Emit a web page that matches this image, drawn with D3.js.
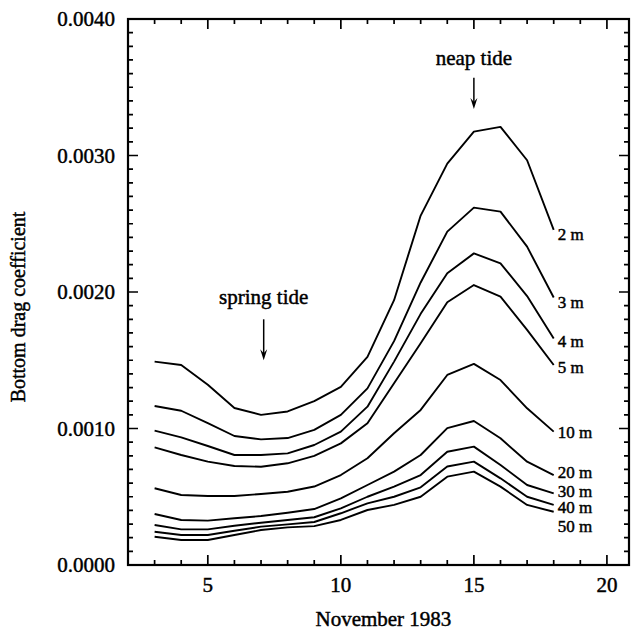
<!DOCTYPE html>
<html>
<head>
<meta charset="utf-8">
<script src="https://cdn.jsdelivr.net/npm/d3@7"></script>
<style>
  body { margin: 0; background: #fff; }
  text { font-family: "Liberation Serif", "DejaVu Serif", serif; fill: #000; stroke: #000; stroke-width: 0.45px; }
</style>
</head>
<body>
<svg id="chart" width="632" height="632"></svg>
<script>
// days of November 1983
const days = [3, 4, 5, 6, 7, 8, 9, 10, 11, 12, 13, 14, 15, 16, 17, 18];

// bottom drag coefficient, in units of 1e-3, per depth
const depths = ["2 m", "3 m", "4 m", "5 m", "10 m", "20 m", "30 m", "40 m", "50 m"];
const cd2 = [1.49, 1.465, 1.32, 1.15, 1.10, 1.125, 1.20, 1.305, 1.525, 1.94, 2.56, 2.94, 3.175, 3.21, 2.965, 2.455];
const cd3 = [1.165, 1.13, 1.04, 0.945, 0.92, 0.93, 0.99, 1.10, 1.294, 1.64, 2.07, 2.442, 2.618, 2.589, 2.332, 1.96];
const cd4 = [0.984, 0.935, 0.872, 0.806, 0.806, 0.818, 0.879, 0.977, 1.16, 1.49, 1.84, 2.137, 2.283, 2.21, 1.97, 1.66];
const cd5 = [0.862, 0.806, 0.757, 0.725, 0.72, 0.745, 0.80, 0.891, 1.038, 1.331, 1.624, 1.925, 2.051, 1.966, 1.722, 1.465];
const cd10 = [0.562, 0.513, 0.505, 0.505, 0.52, 0.537, 0.575, 0.659, 0.782, 0.965, 1.136, 1.392, 1.473, 1.355, 1.148, 0.977];
const cd20 = [0.374, 0.33, 0.325, 0.342, 0.359, 0.383, 0.41, 0.488, 0.586, 0.684, 0.806, 1.003, 1.055, 0.928, 0.757, 0.659];
const cd30 = [0.293, 0.261, 0.261, 0.288, 0.31, 0.33, 0.35, 0.415, 0.50, 0.574, 0.659, 0.83, 0.867, 0.733, 0.586, 0.525];
const cd40 = [0.244, 0.22, 0.22, 0.251, 0.281, 0.298, 0.315, 0.379, 0.452, 0.50, 0.569, 0.722, 0.757, 0.635, 0.50, 0.44];
const cd50 = [0.207, 0.183, 0.183, 0.22, 0.256, 0.276, 0.285, 0.33, 0.403, 0.44, 0.50, 0.647, 0.684, 0.574, 0.44, 0.39];
const allSeries = [cd2, cd3, cd4, cd5, cd10, cd20, cd30, cd40, cd50];

// where each depth label sits (same units)
const labelAt = [2.381, 1.883, 1.60, 1.404, 0.930, 0.637, 0.50, 0.381, 0.244];

const yMajor = [0, 0.001, 0.002, 0.003, 0.004];
const xMajor = [5, 10, 15, 20];

// ---------------------------------------------------------------
const margin = { top: 19, right: 3, bottom: 67, left: 128 };
const W = 632, H = 632;
const innerW = W - margin.left - margin.right;
const innerH = H - margin.top - margin.bottom;

const svg = d3.select("#chart");
const g = svg.append("g").attr("transform", `translate(${margin.left},${margin.top})`);

const x = d3.scaleLinear().domain([2, 20.83]).range([0, innerW]);
const y = d3.scaleLinear().domain([0, 0.004]).range([innerH, 0]);

// frame first, so nothing gets painted over
g.append("rect")
  .attr("x", 0).attr("y", 0)
  .attr("width", innerW).attr("height", innerH)
  .attr("fill", "none").attr("stroke", "#000").attr("stroke-width", 2.2);

const xTicks = d3.range(3, 21);
const yTicks = d3.range(1, 40).map((i) => i * 0.0001);
const isMajorX = (d) => xMajor.includes(d);
const isMajorY = (v) => yMajor.some((m) => Math.abs(m - v) < 1e-9);

const majorLen = 10, minorLen = 5;
const xLen = (d) => (isMajorX(d) ? majorLen : minorLen);
const yLen = (d) => (isMajorY(d) ? majorLen : minorLen);

// ticks on all four sides, pointing inward, as one path
const tp = d3.path();
xTicks.forEach((d) => {
  tp.moveTo(x(d), innerH); tp.lineTo(x(d), innerH - xLen(d));
  tp.moveTo(x(d), 0); tp.lineTo(x(d), xLen(d));
});
yTicks.forEach((d) => {
  tp.moveTo(0, y(d)); tp.lineTo(yLen(d), y(d));
  tp.moveTo(innerW, y(d)); tp.lineTo(innerW - yLen(d), y(d));
});
g.append("path")
  .attr("d", tp.toString())
  .attr("fill", "none")
  .attr("stroke", "#000")
  .attr("stroke-width", 1.7);

// tick labels
g.selectAll("text.xlab").data(xMajor).join("text").attr("class", "xlab")
  .attr("x", (d) => x(d)).attr("y", innerH + 27)
  .attr("text-anchor", "middle").attr("font-size", 21)
  .text(d3.format("d"));
g.selectAll("text.ylab").data(yMajor).join("text").attr("class", "ylab")
  .attr("x", -13).attr("y", (d) => y(d)).attr("dy", "0.35em")
  .attr("text-anchor", "end").attr("font-size", 21)
  .text(d3.format(".4f"));

// curves
const line = d3.line().x((d) => x(d[0])).y((d) => y(d[1] / 1000));
g.selectAll("path.curve")
  .data(allSeries)
  .join("path")
  .attr("class", "curve")
  .attr("d", (s) => line(days.map((d, i) => [d, s[i]])))
  .attr("fill", "none")
  .attr("stroke", "#000")
  .attr("stroke-width", 1.9)
  .attr("stroke-linejoin", "round");

// depth labels at the right end of each curve
const lastDay = days[days.length - 1];
g.selectAll("text.depth")
  .data(depths)
  .join("text")
  .attr("class", "depth")
  .attr("x", x(lastDay) + 4)
  .attr("y", (d, i) => y(labelAt[i] / 1000))
  .attr("font-size", 17)
  .text((d) => d);

// tide annotations with arrows
function annotate(label, day, textVal, arrowTop, arrowBottom) {
  const ax = x(day);
  g.append("text")
    .attr("x", ax).attr("y", y(textVal))
    .attr("text-anchor", "middle")
    .attr("font-size", 21)
    .text(label);
  const y0 = y(arrowTop), y1 = y(arrowBottom);
  g.append("line")
    .attr("x1", ax).attr("x2", ax).attr("y1", y0).attr("y2", y1 - 6)
    .attr("stroke", "#000").attr("stroke-width", 1.5);
  g.append("path")
    .attr("d", `M${ax - 3.5},${y1 - 11} L${ax},${y1} L${ax + 3.5},${y1 - 11} L${ax},${y1 - 7} Z`)
    .attr("fill", "#000");
}
annotate("spring tide", 7.1, 0.00191, 0.00180, 0.00150);
annotate("neap tide", 15.0, 0.00366, 0.00357, 0.00334);

// axis titles
svg.append("text")
  .attr("x", margin.left + x(11.6))
  .attr("y", 626)
  .attr("text-anchor", "middle")
  .attr("font-size", 21)
  .text("November 1983");

svg.append("text")
  .attr("transform", `translate(25,${margin.top + y(0.00189)}) rotate(-90)`)
  .attr("text-anchor", "middle")
  .attr("font-size", 20)
  .text("Bottom drag coefficient");
</script>
</body>
</html>
